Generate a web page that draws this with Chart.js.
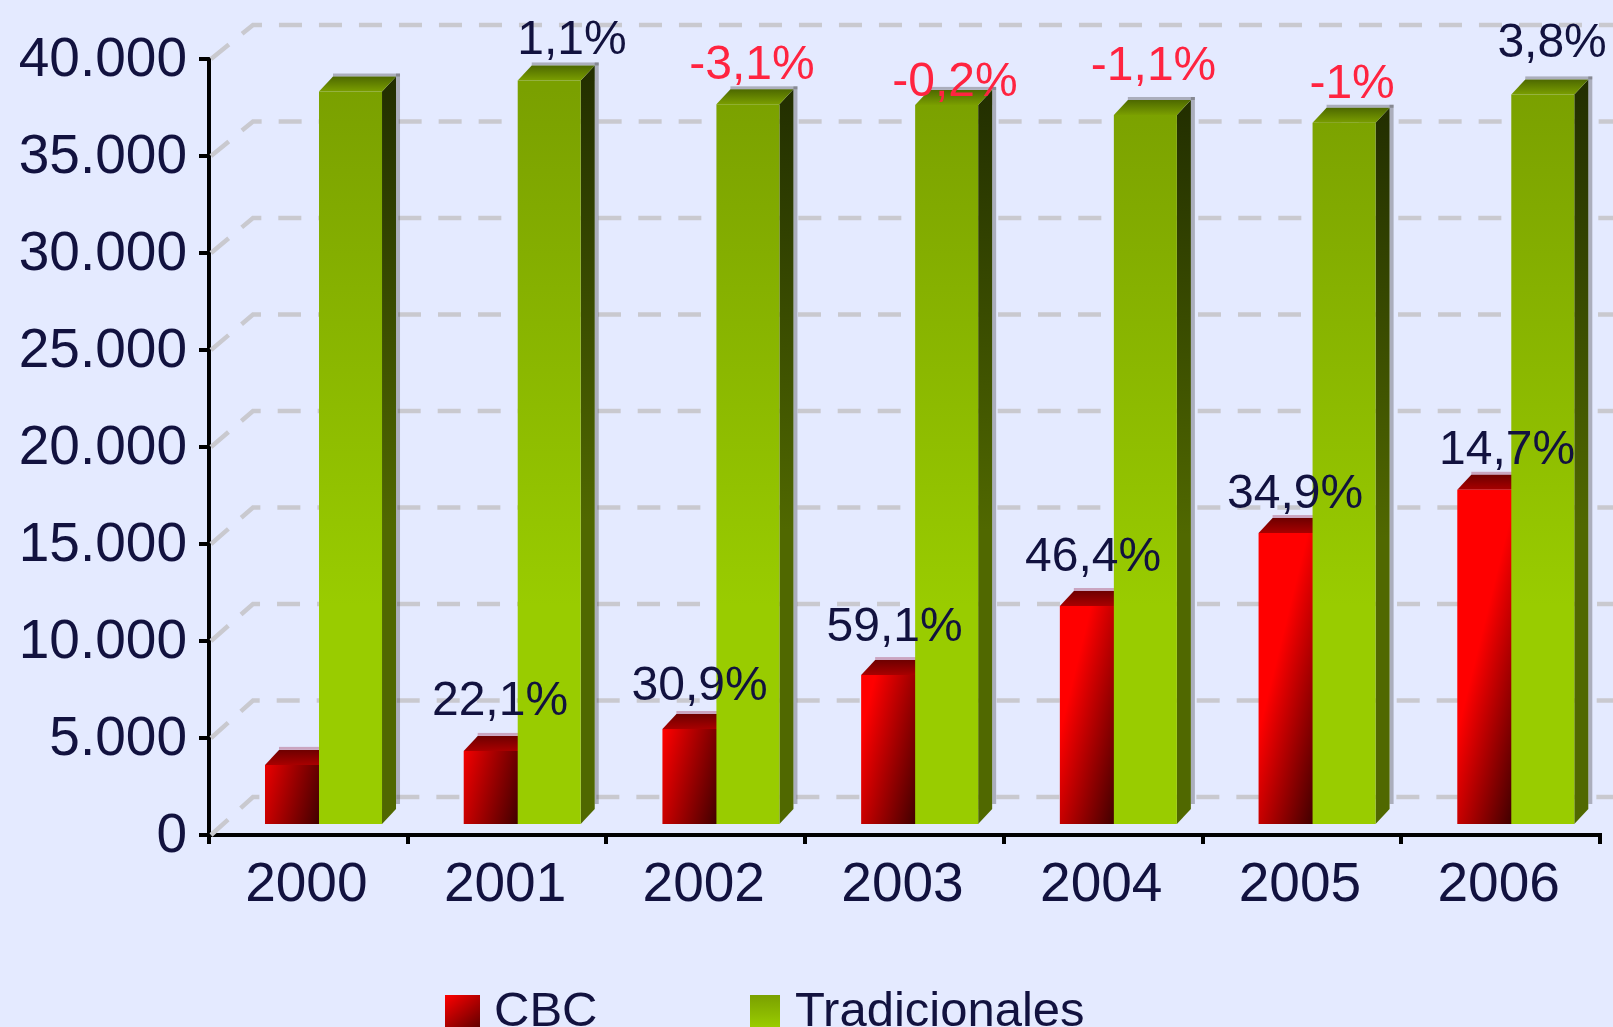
<!DOCTYPE html>
<html>
<head>
<meta charset="utf-8">
<title>CBC / Tradicionales</title>
<script src="https://cdn.jsdelivr.net/npm/chart.js@4"></script>
<style>
html, body { margin: 0; padding: 0; background: #e4eaff; overflow: hidden; }
canvas { display: block; }
</style>
</head>
<body>
<canvas id="chart" width="1613" height="1027"></canvas>
<script>
const years = ['2000', '2001', '2002', '2003', '2004', '2005', '2006'];
const cbcValues = [3150, 3870, 5000, 7780, 11340, 15100, 17330];
const tradValues = [37860, 38430, 37200, 37170, 36650, 36250, 37710];
const cbcLabels = ['', '22,1%', '30,9%', '59,1%', '46,4%', '34,9%', '14,7%'];
const tradLabels = ['', '1,1%', '-3,1%', '-0,2%', '-1,1%', '-1%', '3,8%'];

const textColor = '#12123f';
const font = 'Liberation Sans, Arial, sans-serif';
const shiftX = 15.15, shiftY = -9;  // front plane of the bars vs the axes
const depthX = 14, depthY = 15;

// hand placed labels, the original ones are not regular
const cbcNudgeX = [0, 4.8, 5.6, 1.9, 1.7, 5, 18.3];
const cbcNudgeY = [0, 36, 29, 34, 35, 25, 26];
const tradNudgeX = [0, 22.8, 4.1, 8.4, 8.2, 8, 9.3];
const tradNudgeY = [0, 26.5, 25, 8.5, 35, 25, 37];

function redFill(c) {
    const chart = c.chart;
    const tick = chart.scales.x ? chart.scales.x.getPixelForTick(c.dataIndex) : NaN;
    const base = chart.scales.y ? chart.scales.y.getPixelForValue(0) : NaN;
    if (!Number.isFinite(tick) || !Number.isFinite(base)) return '#d00000';
    const right = tick - 4.5;
    const g = chart.ctx.createLinearGradient(right - 72.6, base - 17.9, right, base);
    g.addColorStop(0, '#ff0000');
    g.addColorStop(1, '#400000');
    return g;
}

function greenFill(c) {
    const chart = c.chart;
    const top = chart.scales.y ? chart.scales.y.getPixelForValue(38000) : NaN;
    const base = chart.scales.y ? chart.scales.y.getPixelForValue(0) : NaN;
    if (!Number.isFinite(top) || !Number.isFinite(base)) return '#8ab800';
    const g = chart.ctx.createLinearGradient(0, top, 0, base);
    g.addColorStop(0, '#7aa000');
    g.addColorStop(0.7, '#99cc00');
    g.addColorStop(1, '#99cc00');
    return g;
}

function poly(ctx, pts, fill) {
    ctx.fillStyle = fill;
    ctx.beginPath();
    pts.forEach((p, i) => i ? ctx.lineTo(p[0], p[1]) : ctx.moveTo(p[0], p[1]));
    ctx.closePath();
    ctx.fill();
}

function drawFaces(ctx, meta, isGreen) {
    const top = isGreen ? ['#7a9e00', '#4d6800'] : ['#a80000', '#6e0000'];
    const side = isGreen ? ['#222e00', '#506800'] : ['#600000', '#300000'];
    meta.data.forEach(bar => {
        const l = bar.x - bar.width / 2, r = bar.x + bar.width / 2;
        const t = bar.y, b = bar.base;
        // soft shadow round the back edges
        ctx.fillStyle = isGreen ? 'rgba(70,70,70,0.36)' : 'rgba(150,20,60,0.32)';
        ctx.fillRect(r + depthX, t - depthY - 3, 4, b - t - 2);
        ctx.fillRect(l + depthX, t - depthY - 3, bar.width + 4, 3);
        // side face
        const sg = ctx.createLinearGradient(0, t - depthY, 0, b);
        sg.addColorStop(0, side[0]);
        sg.addColorStop(0.6, side[1]);
        sg.addColorStop(1, side[1]);
        poly(ctx, [[r, t], [r + depthX, t - depthY], [r + depthX, b - depthY], [r, b]], sg);
        // top face
        const tg = ctx.createLinearGradient(0, t, 0, t - depthY);
        tg.addColorStop(0, top[0]);
        tg.addColorStop(1, top[1]);
        poly(ctx, [[l, t], [l + depthX, t - depthY], [r + depthX, t - depthY], [r, t]], tg);
    });
}

const bars3d = {
    id: 'bars3d',
    beforeDatasetsDraw(chart) {
        const ctx = chart.ctx, y = chart.scales.y, left = chart.chartArea.left;
        ctx.save();
        ctx.strokeStyle = '#c9c9cf';
        ctx.lineWidth = 4.5;
        ctx.setLineDash([23, 17]);
        y.ticks.forEach(t => {
            const py = y.getPixelForValue(t.value);
            const back = py - (38 - 4 * t.value / y.max);
            ctx.beginPath();
            ctx.moveTo(left + 2, py);
            ctx.lineTo(left + 44, back);
            ctx.lineTo(chart.width, back);
            ctx.stroke();
        });
        ctx.restore();
        ctx.save();
        ctx.translate(shiftX, shiftY);
    },
    beforeDatasetDraw(chart, args) {
        // the green bars go over the red ones, done at the end
        if (args.index === 1) return false;
        drawFaces(chart.ctx, args.meta, false);
    },
    afterDatasetsDraw(chart) {
        const green = chart.getDatasetMeta(1);
        drawFaces(chart.ctx, green, true);
        green.controller.draw();
        chart.ctx.restore();
    }
};

const pctLabels = {
    id: 'pctLabels',
    afterDatasetsDraw(chart) {
        const ctx = chart.ctx;
        ctx.save();
        ctx.font = '48px ' + font;
        ctx.textAlign = 'center';
        ctx.textBaseline = 'alphabetic';
        chart.getDatasetMeta(0).data.forEach((bar, i) => {
            if (!cbcLabels[i]) return;
            ctx.fillStyle = textColor;
            ctx.fillText(cbcLabels[i], bar.x + shiftX + cbcNudgeX[i], bar.y + shiftY - cbcNudgeY[i]);
        });
        chart.getDatasetMeta(1).data.forEach((bar, i) => {
            if (!tradLabels[i]) return;
            ctx.fillStyle = tradLabels[i][0] === '-' ? '#ff2440' : textColor;
            ctx.fillText(tradLabels[i], bar.x + shiftX + tradNudgeX[i], bar.y + shiftY - tradNudgeY[i]);
        });
        ctx.restore();
    }
};

const bottomLegend = {
    id: 'bottomLegend',
    afterDraw(chart) {
        const ctx = chart.ctx, ds = chart.data.datasets;
        ctx.save();
        const rg = ctx.createLinearGradient(445, 995, 480, 1040);
        rg.addColorStop(0, '#ff0000');
        rg.addColorStop(1, '#400000');
        ctx.fillStyle = rg;
        ctx.fillRect(445, 995, 35, 32);
        const gg = ctx.createLinearGradient(0, 995, 0, 1027);
        gg.addColorStop(0, '#7aa000');
        gg.addColorStop(1, '#99cc00');
        ctx.fillStyle = gg;
        ctx.fillRect(750, 995, 30, 32);
        ctx.font = '49px ' + font;
        ctx.fillStyle = textColor;
        ctx.textBaseline = 'alphabetic';
        ctx.fillText(ds[0].label, 494, 1026);
        ctx.fillText(ds[1].label, 795, 1026);
        ctx.restore();
    }
};

const axisFont = { family: font, size: 55 };

new Chart(document.getElementById('chart').getContext('2d'), {
    type: 'bar',
    data: {
        labels: years,
        datasets: [
            { label: 'CBC', data: cbcValues, backgroundColor: redFill, order: 1 },
            { label: 'Tradicionales', data: tradValues, backgroundColor: greenFill, order: 2 }
        ]
    },
    options: {
        responsive: false,
        animation: false,
        categoryPercentage: 0.5435,
        barPercentage: 1.167,
        layout: { padding: { top: 59, right: 13, left: 0, bottom: 0 } },
        plugins: { legend: { display: false }, tooltip: { enabled: false } },
        scales: {
            x: {
                afterFit(scale) { scale.height = 192; },
                border: { color: '#000', width: 4 },
                grid: { offset: true, drawOnChartArea: false, color: '#000', lineWidth: 4, tickLength: 9 },
                ticks: { color: textColor, font: axisFont, padding: 9, maxRotation: 0, labelOffset: -2 }
            },
            y: {
                min: 0,
                max: 40000,
                afterFit(scale) { scale.width = 209; },
                border: { color: '#000', width: 4 },
                grid: { drawOnChartArea: false, color: '#000', lineWidth: 4, tickLength: 10 },
                ticks: {
                    stepSize: 5000,
                    color: textColor,
                    font: axisFont,
                    padding: 12,
                    labelOffset: 2,
                    callback: v => String(v).replace(/\B(?=(\d{3})+$)/g, '.')
                }
            }
        }
    },
    plugins: [bars3d, pctLabels, bottomLegend]
});
</script>
</body>
</html>
